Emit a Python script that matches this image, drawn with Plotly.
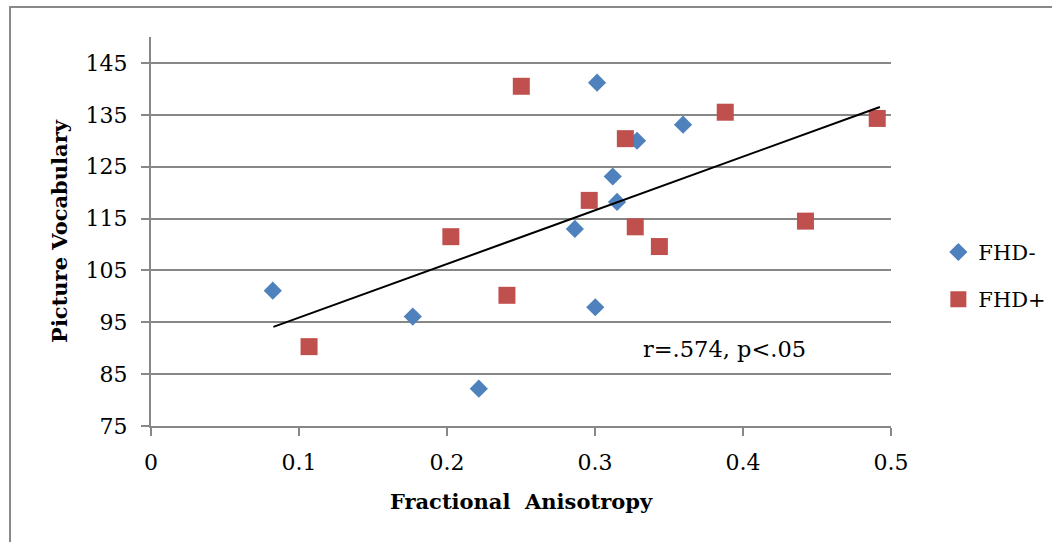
import plotly.graph_objects as go

# FHD- (blue diamonds)
fhd_minus_x = [0.0823, 0.1769, 0.2215, 0.2864, 0.3002, 0.3014, 0.3120, 0.3149, 0.3284, 0.3595]
fhd_minus_y = [101.1, 96.1, 82.2, 113.0, 97.9, 141.2, 123.1, 118.2, 130.0, 133.1]

# FHD+ (red squares)
fhd_plus_x = [0.1068, 0.2026, 0.2405, 0.2502, 0.2961, 0.3205, 0.3272, 0.3435, 0.3880, 0.4422, 0.4907]
fhd_plus_y = [90.3, 111.5, 100.2, 140.5, 118.5, 130.4, 113.4, 109.6, 135.5, 114.5, 134.3]

# Linear trendline endpoints
trend_x = [0.0827, 0.4925]
trend_y = [94.1, 136.5]

x_ticks = [0, 0.1, 0.2, 0.3, 0.4, 0.5]
x_tick_labels = ["0", "0.1", "0.2", "0.3", "0.4", "0.5"]
y_ticks = [75, 85, 95, 105, 115, 125, 135, 145]

FONT = "DejaVu Serif"
GRID = "#878787"

fig = go.Figure()
fig.add_trace(go.Scatter(
    x=fhd_minus_x, y=fhd_minus_y, mode="markers", name="FHD-",
    legendgroup="a",
    marker=dict(symbol="diamond", size=14, color="#4F81BD"),
))
fig.add_trace(go.Scatter(
    x=fhd_plus_x, y=fhd_plus_y, mode="markers", name="FHD+",
    legendgroup="b",
    marker=dict(symbol="square", size=17, color="#C0504D"),
))
fig.add_trace(go.Scatter(
    x=trend_x, y=trend_y, mode="lines", showlegend=False,
    line=dict(color="black", width=2),
))

fig.add_annotation(
    x=0.3874, y=89.8, xref="x", yref="y", text="r=.574, p<.05",
    showarrow=False, font=dict(family=FONT, size=22.5, color="black"),
)

# outer chart border
fig.add_shape(type="rect", xref="paper", yref="paper",
              x0=-0.1905, x1=1.4, y0=-0.5, y1=1.0771,
              line=dict(color="#888888", width=2), layer="below")

fig.update_layout(
    width=1052, height=542,
    margin=dict(l=151, r=161, t=37, b=116, autoexpand=False),
    paper_bgcolor="white", plot_bgcolor="white",
    font=dict(family=FONT, size=21, color="black"),
    showlegend=True,
    legend=dict(x=1.064, y=0.386, xanchor="left", yanchor="middle",
                font=dict(family=FONT, size=21, color="black"),
                traceorder="grouped", tracegroupgap=17,
                itemwidth=30, bgcolor="rgba(0,0,0,0)"),
    xaxis=dict(
        range=[0, 0.5], tickvals=x_ticks, ticktext=x_tick_labels,
        showgrid=False, zeroline=False,
        showline=True, linecolor=GRID, linewidth=2,
        ticks="outside", ticklen=8, tickwidth=2, tickcolor=GRID,
        ticklabelstandoff=8, tickfont=dict(size=22),
        title=dict(text="<b>Fractional  Anisotropy</b>", font=dict(family=FONT, size=21), standoff=20),
    ),
    yaxis=dict(
        range=[75, 150], tickvals=y_ticks,
        showgrid=True, gridcolor=GRID, gridwidth=2, zeroline=False,
        showline=True, linecolor=GRID, linewidth=2,
        ticks="outside", ticklen=8, tickwidth=2, tickcolor=GRID,
        ticklabelstandoff=9, tickfont=dict(size=22),
        title=dict(text="<b>Picture Vocabulary</b>", font=dict(family=FONT, size=21), standoff=12),
    ),
)

fig.write_html("out.html")
